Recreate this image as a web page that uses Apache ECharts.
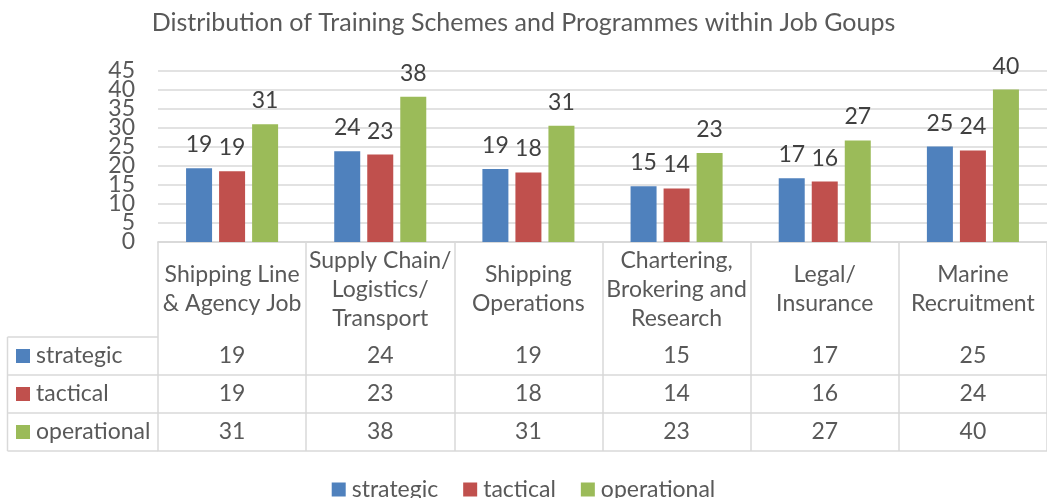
<!DOCTYPE html>
<html>
<head>
<meta charset="utf-8">
<script src="https://cdn.jsdelivr.net/npm/echarts@6/dist/echarts.min.js"></script>
<style>html,body{margin:0;padding:0;background:#fff}#c{width:1047px;height:498px}</style>
</head>
<body>
<div id="c"></div>
<script>
const title = 'Distribution of Training Schemes and Programmes within Job Goups';
const categories = ['Shipping Line\n& Agency Job', 'Supply Chain/\nLogistics/\nTransport', 'Shipping\nOperations', 'Chartering,\nBrokering and\nResearch', 'Legal/\nInsurance', 'Marine\nRecruitment'];
const seriesNames = ['strategic', 'tactical', 'operational'];
const strategic = [19.4, 23.9, 19.2, 14.7, 16.8, 25.1];
const tactical = [18.6, 23.0, 18.3, 14.1, 15.9, 24.1];
const operational = [31.0, 38.2, 30.6, 23.4, 26.7, 40.1];
const yTicks = [0, 5, 10, 15, 20, 25, 30, 35, 40, 45];

const colors = ['#4f81bd', '#c0504d', '#9bbb59'];
const values = [strategic, tactical, operational];
const FONT = 'Lato';
const FS = 23;
const TXT = '#595959';
const LINE = '#d9d9d9';

const gridLeft = 158, gridTop = 71, gridH = 171, catW = 150;
const axisY = gridTop + gridH;
const headerH = 95, rowH = 38;
const yMin = yTicks[0], yMax = yTicks[yTicks.length - 1];

const chart = echarts.init(document.getElementById('c'), null, {renderer: 'canvas'});

const xAxes = [{
  type: 'category', data: categories, gridIndex: 0, position: 'bottom',
  axisLine: {show: true, lineStyle: {color: LINE, width: 1.5}},
  axisTick: {show: true, interval: 0, length: headerH + 3 * rowH, lineStyle: {color: LINE, width: 1.5}},
  axisLabel: {interval: 0, margin: headerH / 2, verticalAlign: 'middle', lineHeight: 29,
    color: TXT, fontFamily: FONT, fontSize: FS}
}];
values.forEach((vals, r) => {
  xAxes.push({
    type: 'category', data: categories, gridIndex: 0, position: 'bottom',
    offset: headerH + r * rowH,
    axisLine: {show: true, lineStyle: {color: LINE, width: 1.5}},
    axisTick: {show: false},
    axisLabel: {interval: 0, margin: rowH / 2, verticalAlign: 'middle', color: TXT, fontFamily: FONT, fontSize: FS,
      formatter: (v, i) => String(Math.round(vals[i]))}
  });
});
xAxes.push({
  type: 'category', data: categories, gridIndex: 0, position: 'bottom',
  offset: headerH + 3 * rowH,
  axisLine: {show: true, lineStyle: {color: LINE, width: 1.5}},
  axisTick: {show: false}, axisLabel: {show: false}
});

const graphics = [];
const tableLeft = 7.5;
for (let k = 0; k <= 3; k++) {
  const y = axisY + headerH + k * rowH;
  graphics.push({type: 'line', shape: {x1: tableLeft, y1: y, x2: gridLeft, y2: y}, style: {stroke: LINE, lineWidth: 1.5}, silent: true});
}
graphics.push({type: 'line', shape: {x1: tableLeft, y1: axisY + headerH, x2: tableLeft, y2: axisY + headerH + 3 * rowH}, style: {stroke: LINE, lineWidth: 1.5}, silent: true});
seriesNames.forEach((n, r) => {
  const cy = axisY + headerH + r * rowH + rowH / 2;
  graphics.push({type: 'rect', shape: {x: 16, y: cy - 7, width: 14, height: 14}, style: {fill: colors[r]}, silent: true});
  graphics.push({type: 'text', x: 36, y: cy, style: {text: n, fill: TXT, font: FS + 'px ' + FONT, verticalAlign: 'middle', textAlign: 'left'}, silent: true});
});

const yLabelStyle = {margin: 23, color: TXT, fontFamily: FONT, fontSize: FS};

chart.setOption({
  animation: false,
  color: colors,
  title: {text: title, left: 'center', top: 5,
    textStyle: {color: TXT, fontFamily: FONT, fontSize: 25, fontWeight: 'normal'}},
  legend: {data: seriesNames, top: 473, left: 'center', icon: 'rect', itemWidth: 14, itemHeight: 14, itemGap: 25,
    textStyle: {color: TXT, fontFamily: FONT, fontSize: FS, padding: [0, 0, 0, 1]}},
  grid: {left: gridLeft, top: gridTop, width: catW * categories.length, height: gridH, containLabel: false},
  xAxis: xAxes,
  yAxis: [
    {type: 'value', min: yMin, max: yMax, interval: 5, position: 'left',
      axisLine: {show: false}, axisTick: {show: false},
      axisLabel: Object.assign({showMinLabel: false, showMaxLabel: false, formatter: v => String(v)}, yLabelStyle),
      splitLine: {lineStyle: {color: LINE, width: 1.5}}},
    {type: 'value', min: yMin, max: yMax, interval: 5, position: 'left',
      axisLine: {show: false}, axisTick: {show: false}, splitLine: {show: false},
      axisLabel: Object.assign({showMinLabel: true, showMaxLabel: true,
        formatter: v => (v === yMin || v === yMax) ? String(v) : ''}, yLabelStyle)}
  ],
  graphic: graphics,
  series: seriesNames.map((n, r) => ({
    name: n, type: 'bar', xAxisIndex: 0, yAxisIndex: 0, data: values[r], barWidth: 26, barGap: '27%',
    label: {show: true, position: 'top', distance: 12, color: '#404040', fontFamily: FONT, fontSize: FS,
      formatter: p => String(Math.round(p.value))}
  }))
});
</script>
</body>
</html>
